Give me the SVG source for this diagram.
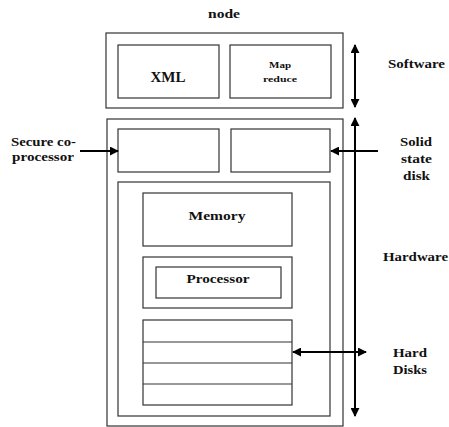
<svg xmlns="http://www.w3.org/2000/svg" width="449" height="427" viewBox="0 0 449 427">
<defs>
<style>
.b{fill:#fff;stroke:#333;stroke-width:1.2}
.t{font-family:"Liberation Serif","Times New Roman","DejaVu Serif",serif;font-weight:bold;font-size:13px;fill:#111}
.s{font-size:9px}
.c{stroke:#000;stroke-width:2;fill:none}
</style>
<marker id="ah" viewBox="0 0 10 10" refX="9" refY="5" markerWidth="4.5" markerHeight="4.5" orient="auto-start-reverse"><path d="M0,0L10,5L0,10z" fill="#000"/></marker>
</defs>
<rect width="449" height="427" fill="#fff"/>
<text class="t" x="224" y="18" text-anchor="middle" textLength="32" lengthAdjust="spacingAndGlyphs">node</text>
<g id="software">
<rect class="b" x="106" y="33" width="237" height="75"/>
<g id="xml"><rect class="b" x="118" y="45" width="101" height="53"/><text class="t" x="168" y="82" text-anchor="middle" textLength="35" lengthAdjust="spacingAndGlyphs" style="font-size:14px">XML</text></g>
<g id="mapreduce"><rect class="b" x="230" y="45" width="101" height="53"/><text class="t s" x="280" y="68" text-anchor="middle" textLength="22" lengthAdjust="spacingAndGlyphs">Map</text><text class="t s" x="280" y="82" text-anchor="middle" textLength="34" lengthAdjust="spacingAndGlyphs">reduce</text></g>
</g>
<g id="hardware">
<rect class="b" x="107" y="119" width="236" height="307"/>
<g id="secure"><rect class="b" x="118" y="129" width="101" height="43"/></g>
<g id="ssd"><rect class="b" x="231" y="129" width="99" height="43"/></g>
<rect class="b" x="118" y="182" width="212" height="234"/>
<g id="memory"><rect class="b" x="143" y="193" width="149" height="53"/><text class="t" x="217" y="220" text-anchor="middle" textLength="57" lengthAdjust="spacingAndGlyphs">Memory</text></g>
<g id="processor"><rect class="b" x="143" y="257" width="149" height="51"/><rect class="b" x="156" y="267" width="125" height="31"/><text class="t" x="218" y="283" text-anchor="middle" textLength="63" lengthAdjust="spacingAndGlyphs">Processor</text></g>
<g id="disks"><rect class="b" x="143" y="320" width="149" height="85"/><path class="b" d="M143,342H292M143,363H292M143,384H292"/></g>
</g>
<g id="labels">
<text class="t" x="11" y="146" textLength="65" lengthAdjust="spacingAndGlyphs">Secure co-</text>
<text class="t" x="12" y="161" textLength="62" lengthAdjust="spacingAndGlyphs">processor</text>
<text class="t" x="400" y="146" textLength="32" lengthAdjust="spacingAndGlyphs">Solid</text>
<text class="t" x="401" y="163" textLength="31" lengthAdjust="spacingAndGlyphs">state</text>
<text class="t" x="403" y="180" textLength="27" lengthAdjust="spacingAndGlyphs">disk</text>
<text class="t" x="388" y="68" textLength="57" lengthAdjust="spacingAndGlyphs">Software</text>
<text class="t" x="383" y="261" textLength="65" lengthAdjust="spacingAndGlyphs">Hardware</text>
<text class="t" x="393" y="357" textLength="34" lengthAdjust="spacingAndGlyphs">Hard</text>
<text class="t" x="393" y="374" textLength="34" lengthAdjust="spacingAndGlyphs">Disks</text>
</g>
<g id="connectors">
<line class="c" x1="355" y1="45" x2="355" y2="107" marker-start="url(#ah)" marker-end="url(#ah)"/>
<line class="c" x1="355" y1="118" x2="355" y2="416" marker-start="url(#ah)" marker-end="url(#ah)"/>
<line class="c" x1="80" y1="151" x2="118" y2="151" marker-end="url(#ah)"/>
<line class="c" x1="378" y1="151" x2="331" y2="151" marker-end="url(#ah)"/>
<line class="c" x1="293" y1="352" x2="366" y2="352" marker-start="url(#ah)" marker-end="url(#ah)"/>
</g>
</svg>
